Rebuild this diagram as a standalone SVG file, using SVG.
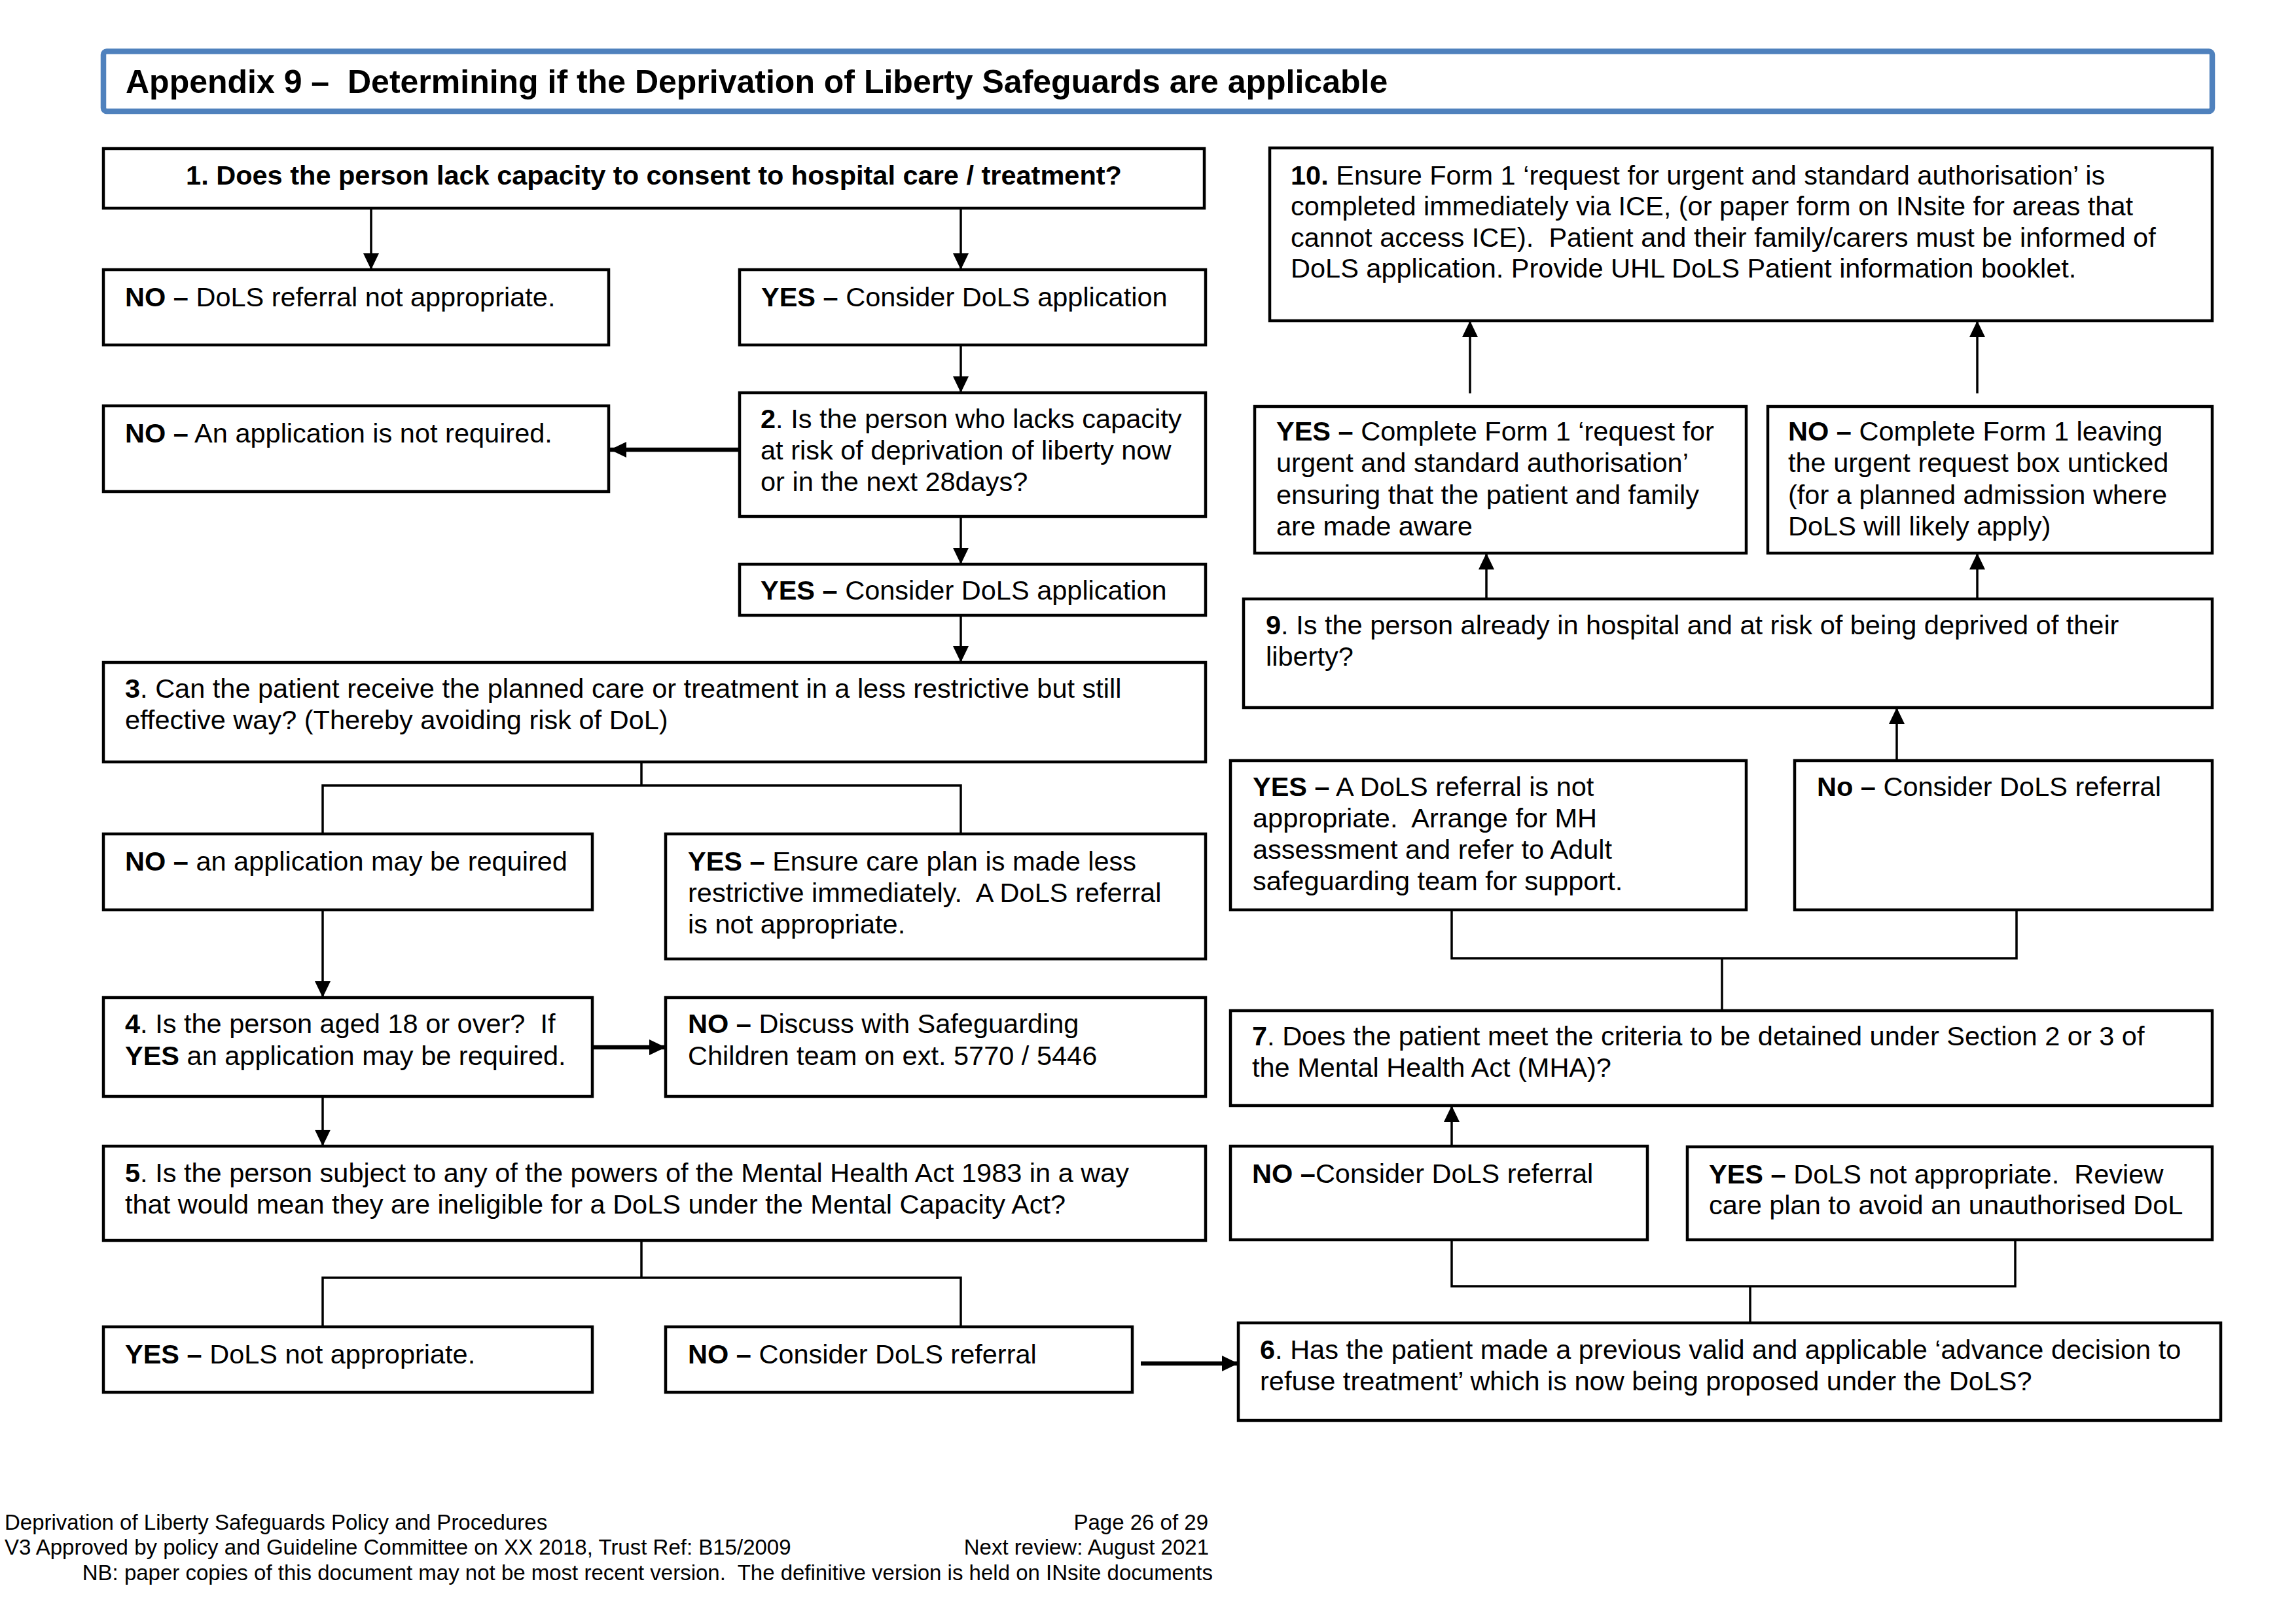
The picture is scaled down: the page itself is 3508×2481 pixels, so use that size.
<svg xmlns="http://www.w3.org/2000/svg" width="3508" height="2481" viewBox="0 0 3508 2481">
<style>
.bg{fill:#fff}
.box{fill:#fff;stroke:#000;stroke-width:4.5}
.title{fill:#fff;stroke:#4F81BD;stroke-width:8.5}
text{font-family:"Liberation Sans",Arial,Helvetica,sans-serif;fill:#000}
.t{font-size:41.5px}
.tt{font-size:50px;font-weight:bold}
.f{font-size:33px}
.b{font-weight:bold}
.c{fill:none;stroke:#000;stroke-width:3.5}
.k{stroke-width:6.5}
</style>
<defs>
<marker id="ah" markerUnits="userSpaceOnUse" markerWidth="26" markerHeight="26" refX="25" refY="12" orient="auto" overflow="visible"><path d="M0,0 L25,12 L0,24 z" fill="#000"/></marker>
</defs>
<rect class="bg" x="0" y="0" width="3508" height="2481"/>

<g id="title">
<rect class="title" x="158" y="78.5" width="3222" height="91.5" rx="5"/>
<text class="tt" x="192" y="142" xml:space="preserve">Appendix 9 –  Determining if the Deprivation of Liberty Safeguards are applicable</text>
</g>

<g id="connectors">
<line class="c" x1="567" y1="318" x2="567" y2="412" marker-end="url(#ah)"/>
<line class="c" x1="1468" y1="318" x2="1468" y2="412" marker-end="url(#ah)"/>
<line class="c" x1="1468" y1="527" x2="1468" y2="600" marker-end="url(#ah)"/>
<line class="c k" x1="1130" y1="687" x2="932" y2="687" marker-end="url(#ah)"/>
<line class="c" x1="1468" y1="789" x2="1468" y2="862" marker-end="url(#ah)"/>
<line class="c" x1="1468" y1="940" x2="1468" y2="1012" marker-end="url(#ah)"/>
<polyline class="c" points="980,1164 980,1200"/>
<polyline class="c" points="493,1274 493,1200 1468,1200 1468,1274"/>
<line class="c" x1="493" y1="1390" x2="493" y2="1524" marker-end="url(#ah)"/>
<line class="c k" x1="905" y1="1600" x2="1017" y2="1600" marker-end="url(#ah)"/>
<line class="c" x1="493" y1="1675" x2="493" y2="1751" marker-end="url(#ah)"/>
<polyline class="c" points="980,1895 980,1952"/>
<polyline class="c" points="493,2027 493,1952 1468,1952 1468,2027"/>
<line class="c k" x1="1743" y1="2083" x2="1892" y2="2083" marker-end="url(#ah)"/>
<polyline class="c" points="2674,2021 2674,1965"/>
<polyline class="c" points="2218,1894 2218,1965 3079,1965 3079,1894"/>
<line class="c" x1="2218" y1="1751" x2="2218" y2="1689" marker-end="url(#ah)"/>
<polyline class="c" points="2631,1544 2631,1464"/>
<polyline class="c" points="2218,1390 2218,1464 3081,1464 3081,1390"/>
<line class="c" x1="2898" y1="1162" x2="2898" y2="1081" marker-end="url(#ah)"/>
<line class="c" x1="2271" y1="915" x2="2271" y2="845" marker-end="url(#ah)"/>
<line class="c" x1="3021" y1="915" x2="3021" y2="845" marker-end="url(#ah)"/>
<line class="c" x1="2246" y1="601" x2="2246" y2="490" marker-end="url(#ah)"/>
<line class="c" x1="3021" y1="601" x2="3021" y2="490" marker-end="url(#ah)"/>
</g>

<g id="n1">
<rect class="box" x="158" y="227" width="1682" height="91"/>
<text class="t b" x="999" y="282" text-anchor="middle">1. Does the person lack capacity to consent to hospital care / treatment?</text>
</g>
<g id="n1-no">
<rect class="box" x="158" y="412" width="772" height="115"/>
<text class="t" x="191" y="468"><tspan class="b">NO –</tspan> DoLS referral not appropriate.</text>
</g>
<g id="n1-yes">
<rect class="box" x="1130" y="412" width="712" height="115"/>
<text class="t" x="1163" y="468"><tspan class="b">YES –</tspan> Consider DoLS application</text>
</g>
<g id="n2">
<rect class="box" x="1130" y="600" width="712" height="189"/>
<text class="t" x="1162" y="654"><tspan class="b">2</tspan>. Is the person who lacks capacity</text>
<text class="t" x="1162" y="702">at risk of deprivation of liberty now</text>
<text class="t" x="1162" y="750">or in the next 28days?</text>
</g>
<g id="n2-no">
<rect class="box" x="158" y="620" width="772" height="131"/>
<text class="t" x="191" y="676"><tspan class="b">NO –</tspan> An application is not required.</text>
</g>
<g id="n2-yes">
<rect class="box" x="1130" y="862" width="712" height="78"/>
<text class="t" x="1162" y="916"><tspan class="b">YES –</tspan> Consider DoLS application</text>
</g>
<g id="n3">
<rect class="box" x="158" y="1012" width="1684" height="152"/>
<text class="t" x="191" y="1066"><tspan class="b">3</tspan>. Can the patient receive the planned care or treatment in a less restrictive but still</text>
<text class="t" x="191" y="1114">effective way? (Thereby avoiding risk of DoL)</text>
</g>
<g id="n3-no">
<rect class="box" x="158" y="1274" width="747" height="116"/>
<text class="t" x="191" y="1330"><tspan class="b">NO –</tspan> an application may be required</text>
</g>
<g id="n3-yes">
<rect class="box" x="1017" y="1274" width="825" height="191"/>
<text class="t" x="1051" y="1330"><tspan class="b">YES –</tspan> Ensure care plan is made less</text>
<text class="t" x="1051" y="1378" xml:space="preserve">restrictive immediately.  A DoLS referral</text>
<text class="t" x="1051" y="1426">is not appropriate.</text>
</g>
<g id="n4">
<rect class="box" x="158" y="1524" width="747" height="151"/>
<text class="t" x="191" y="1578" xml:space="preserve"><tspan class="b">4</tspan>. Is the person aged 18 or over?  If</text>
<text class="t" x="191" y="1627"><tspan class="b">YES</tspan> an application may be required.</text>
</g>
<g id="n4-no">
<rect class="box" x="1017" y="1524" width="825" height="151"/>
<text class="t" x="1051" y="1578"><tspan class="b">NO –</tspan> Discuss with Safeguarding</text>
<text class="t" x="1051" y="1627">Children team on ext. 5770 / 5446</text>
</g>
<g id="n5">
<rect class="box" x="158" y="1751" width="1684" height="144"/>
<text class="t" x="191" y="1806"><tspan class="b">5</tspan>. Is the person subject to any of the powers of the Mental Health Act 1983 in a way</text>
<text class="t" x="191" y="1854">that would mean they are ineligible for a DoLS under the Mental Capacity Act?</text>
</g>
<g id="n5-yes">
<rect class="box" x="158" y="2027" width="747" height="100"/>
<text class="t" x="191" y="2083"><tspan class="b">YES –</tspan> DoLS not appropriate.</text>
</g>
<g id="n5-no">
<rect class="box" x="1017" y="2027" width="713" height="100"/>
<text class="t" x="1051" y="2083"><tspan class="b">NO –</tspan> Consider DoLS referral</text>
</g>
<g id="n6">
<rect class="box" x="1892" y="2021" width="1501" height="149"/>
<text class="t" x="1925" y="2076"><tspan class="b">6</tspan>. Has the patient made a previous valid and applicable ‘advance decision to</text>
<text class="t" x="1925" y="2124">refuse treatment’ which is now being proposed under the DoLS?</text>
</g>
<g id="n6-no">
<rect class="box" x="1880" y="1751" width="637" height="143"/>
<text class="t" x="1913" y="1807"><tspan class="b">NO –</tspan>Consider DoLS referral</text>
</g>
<g id="n6-yes">
<rect class="box" x="2578" y="1752" width="802" height="142"/>
<text class="t" x="2611" y="1808" xml:space="preserve"><tspan class="b">YES –</tspan> DoLS not appropriate.  Review</text>
<text class="t" x="2611" y="1855">care plan to avoid an unauthorised DoL</text>
</g>
<g id="n7">
<rect class="box" x="1880" y="1544" width="1500" height="145"/>
<text class="t" x="1913" y="1597"><tspan class="b">7</tspan>. Does the patient meet the criteria to be detained under Section 2 or 3 of</text>
<text class="t" x="1913" y="1645">the Mental Health Act (MHA)?</text>
</g>
<g id="n7-yes">
<rect class="box" x="1880" y="1162" width="788" height="228"/>
<text class="t" x="1914" y="1216"><tspan class="b">YES –</tspan> A DoLS referral is not</text>
<text class="t" x="1914" y="1264" xml:space="preserve">appropriate.  Arrange for MH</text>
<text class="t" x="1914" y="1312">assessment and refer to Adult</text>
<text class="t" x="1914" y="1360">safeguarding team for support.</text>
</g>
<g id="n7-no">
<rect class="box" x="2742" y="1162" width="638" height="228"/>
<text class="t" x="2776" y="1216"><tspan class="b">No –</tspan> Consider DoLS referral</text>
</g>
<g id="n9">
<rect class="box" x="1900" y="915" width="1480" height="166"/>
<text class="t" x="1934" y="969"><tspan class="b">9</tspan>. Is the person already in hospital and at risk of being deprived of their</text>
<text class="t" x="1934" y="1017">liberty?</text>
</g>
<g id="n9-yes">
<rect class="box" x="1917" y="621" width="751" height="224"/>
<text class="t" x="1950" y="673"><tspan class="b">YES –</tspan> Complete Form 1 ‘request for</text>
<text class="t" x="1950" y="721">urgent and standard authorisation’</text>
<text class="t" x="1950" y="770">ensuring that the patient and family</text>
<text class="t" x="1950" y="818">are made aware</text>
</g>
<g id="n9-no">
<rect class="box" x="2701" y="621" width="679" height="224"/>
<text class="t" x="2732" y="673"><tspan class="b">NO –</tspan> Complete Form 1 leaving</text>
<text class="t" x="2732" y="721">the urgent request box unticked</text>
<text class="t" x="2732" y="770">(for a planned admission where</text>
<text class="t" x="2732" y="818">DoLS will likely apply)</text>
</g>
<g id="n10">
<rect class="box" x="1940" y="226" width="1440" height="264"/>
<text class="t" x="1972" y="282"><tspan class="b">10.</tspan> Ensure Form 1 ‘request for urgent and standard authorisation’ is</text>
<text class="t" x="1972" y="329">completed immediately via ICE, (or paper form on INsite for areas that</text>
<text class="t" x="1972" y="377" xml:space="preserve">cannot access ICE).  Patient and their family/carers must be informed of</text>
<text class="t" x="1972" y="424">DoLS application. Provide UHL DoLS Patient information booklet.</text>
</g>

<g id="footer">
<text class="f" x="7" y="2337">Deprivation of Liberty Safeguards Policy and Procedures</text>
<text class="f" x="1846" y="2337" text-anchor="end">Page 26 of 29</text>
<text class="f" x="7" y="2375">V3 Approved by policy and Guideline Committee on XX 2018, Trust Ref: B15/2009</text>
<text class="f" x="1847" y="2375" text-anchor="end">Next review: August 2021</text>
<text class="f" x="1853" y="2414" text-anchor="end" xml:space="preserve">NB: paper copies of this document may not be most recent version.  The definitive version is held on INsite documents</text>
</g>
</svg>
